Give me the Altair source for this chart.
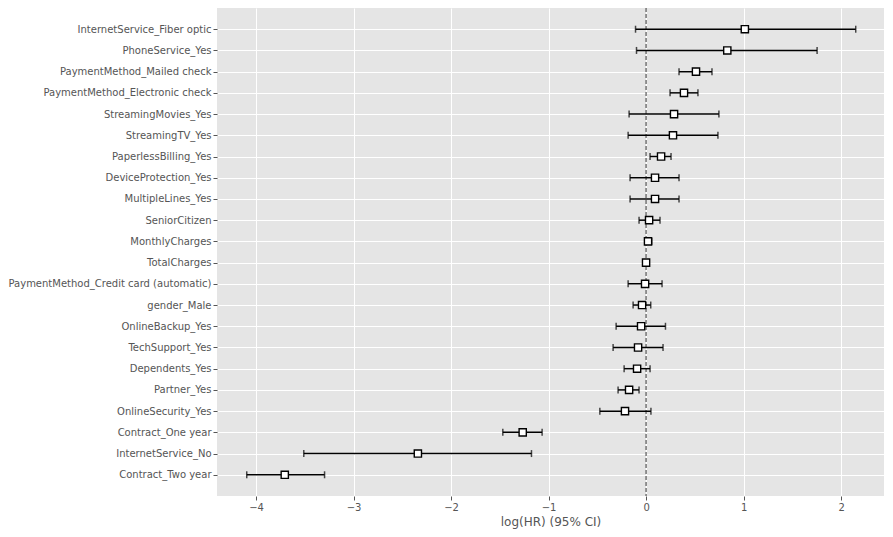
import altair as alt
import pandas as pd

covariates = [
    "InternetService_Fiber optic", "PhoneService_Yes", "PaymentMethod_Mailed check",
    "PaymentMethod_Electronic check", "StreamingMovies_Yes", "StreamingTV_Yes",
    "PaperlessBilling_Yes", "DeviceProtection_Yes", "MultipleLines_Yes", "SeniorCitizen",
    "MonthlyCharges", "TotalCharges", "PaymentMethod_Credit card (automatic)", "gender_Male",
    "OnlineBackup_Yes", "TechSupport_Yes", "Dependents_Yes", "Partner_Yes",
    "OnlineSecurity_Yes", "Contract_One year", "InternetService_No", "Contract_Two year",
]
coef = [1.013, 0.833, 0.512, 0.389, 0.287, 0.276, 0.154, 0.092, 0.092, 0.031,
        0.02, 0.0, -0.01, -0.041, -0.051, -0.082, -0.092, -0.174, -0.216, -1.265,
        -2.34, -3.705]
lower = [-0.108, -0.098, 0.338, 0.246, -0.174, -0.184, 0.041, -0.164, -0.164, -0.072,
         -0.01, -0.002, -0.184, -0.133, -0.307, -0.338, -0.225, -0.287, -0.474, -1.469,
         -3.51, -4.095]
upper = [2.15, 1.754, 0.676, 0.532, 0.747, 0.737, 0.256, 0.338, 0.338, 0.143,
         0.058, 0.002, 0.164, 0.048, 0.199, 0.174, 0.041, -0.072, 0.05, -1.066,
         -1.175, -3.297]
x_ticks = [-4, -3, -2, -1, 0, 1, 2]

df = pd.DataFrame({"covariate": covariates, "coef": coef, "lower": lower, "upper": upper})

FONT = "DejaVu Sans"
xscale = alt.Scale(domain=[-4.40, 2.44], nice=False, zero=False)
yscale = alt.Scale(type="point", padding=1.04, domain=covariates)

y_enc = alt.Y("covariate:N", scale=yscale, sort=covariates,
              axis=alt.Axis(title=None, labelFontSize=10, labelColor="#555555", labelFont=FONT,
                            labelLimit=400,
                            tickColor="#555555", tickSize=4, labelPadding=2, domain=False,
                            grid=True, gridColor="white", gridWidth=1))
x_axis = alt.Axis(values=x_ticks, format="d", title="log(HR) (95% CI)", titleFontSize=12,
                  titleFont=FONT, titleColor="#555555", titleFontWeight="normal",
                  titlePadding=4, labelFontSize=10, labelColor="#555555", labelFont=FONT,
                  tickColor="#555555", tickSize=4, labelPadding=2, domain=False,
                  grid=True, gridColor="white", gridWidth=1)

base = alt.Chart(df)

zero_line = alt.Chart(pd.DataFrame({"z": [0]})).mark_rule(
    color="#333333", strokeDash=[4, 2], strokeWidth=1
).encode(x=alt.X("z:Q", scale=xscale, axis=x_axis))

bars = base.mark_rule(color="black", strokeWidth=1.5).encode(
    x=alt.X("lower:Q", scale=xscale), x2="upper:Q", y=y_enc)
cap_lo = base.mark_tick(color="black", thickness=1.5, size=7).encode(
    x=alt.X("lower:Q", scale=xscale), y=y_enc)
cap_hi = base.mark_tick(color="black", thickness=1.5, size=7).encode(
    x=alt.X("upper:Q", scale=xscale), y=y_enc)
points = base.mark_square(size=52, fill="white", stroke="black", strokeWidth=1.4,
                          opacity=1).encode(
    x=alt.X("coef:Q", scale=xscale), y=y_enc)

chart = alt.layer(zero_line, bars, cap_lo, cap_hi, points).properties(
    width=667, height=488,
    view=alt.ViewBackground(fill="#E5E5E5", strokeWidth=0),
    autosize=alt.AutoSizeParams(type="none"),
    padding={"left": 209, "top": 0, "right": 0, "bottom": 40},
).configure_view(fill="#E5E5E5", strokeWidth=0).configure(background="white")

chart.save("out.html", embed_options={"renderer": "svg", "actions": False})
